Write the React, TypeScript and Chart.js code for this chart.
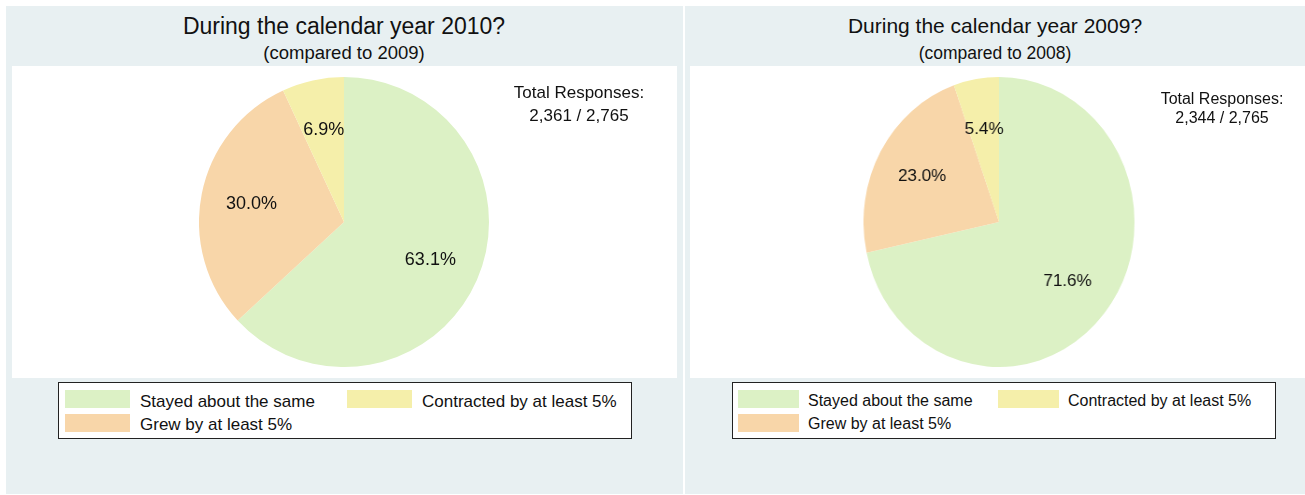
import React, { useEffect, useRef } from "react";
import { Chart, registerables } from "chart.js";

Chart.register(...registerables);

const categories = ["Stayed about the same", "Grew by at least 5%", "Contracted by at least 5%"];
const sliceColors = ["#dcf1c5", "#f8d6a9", "#f5efaa"];
const values2010 = [63.1, 30.0, 6.9];
const values2009 = [71.6, 23.0, 5.4];
const titles = ["During the calendar year 2010?", "During the calendar year 2009?"];
const subtitles = ["(compared to 2009)", "(compared to 2008)"];
const totals = ["2,361 / 2,765", "2,344 / 2,765"];
const legendOrder = [0, 2, 1];

const FONT = "'Liberation Sans', Arial, Helvetica, sans-serif";

function PieCanvas(props: { values: number[]; sx: number; fontSize: number }) {
  const ref = useRef<HTMLCanvasElement | null>(null);
  useEffect(() => {
    const sx = props.sx;
    const fs = props.fontSize;
    const labelPlugin = {
      id: "pctLabels",
      afterDatasetsDraw(chart: any) {
        const ctx = chart.ctx;
        const meta = chart.getDatasetMeta(0);
        const data = chart.data.datasets[0].data as number[];
        ctx.save();
        ctx.fillStyle = "#111";
        ctx.font = `${fs}px ${FONT}`;
        ctx.textAlign = "center";
        ctx.textBaseline = "middle";
        meta.data.forEach((arc: any, i: number) => {
          const p = arc.getProps(["x", "y", "startAngle", "endAngle", "outerRadius"], true);
          const mid = (p.startAngle + p.endAngle) / 2;
          const r = p.outerRadius * 0.65;
          const x = p.x + Math.cos(mid) * r;
          const y = p.y + Math.sin(mid) * r;
          ctx.save();
          ctx.translate(x, y);
          ctx.scale(1 / sx, 1);
          ctx.fillText(data[i].toFixed(1) + "%", 0, 0);
          ctx.restore();
        });
        ctx.restore();
      },
    };
    const chart = new Chart(ref.current as HTMLCanvasElement, {
      type: "pie",
      data: {
        labels: categories,
        datasets: [
          {
            data: props.values,
            backgroundColor: sliceColors,
            borderWidth: 0,
            hoverOffset: 0,
          },
        ],
      },
      options: {
        animation: false,
        responsive: false,
        devicePixelRatio: 1,
        events: [],
        layout: { padding: 0 },
        plugins: { legend: { display: false }, tooltip: { enabled: false } },
      },
      plugins: [labelPlugin],
    });
    return () => chart.destroy();
  }, []);
  return <canvas ref={ref} width={290} height={290} style={{ width: 290, height: 290, display: "block" }} />;
}

function Panel(props: {
  idx: number;
  left: number;
  width: number;
  plotLeft: number;
  plotWidth: number;
  pieCx: number;
  sx: number;
  values: number[];
  labelFont: number;
  titleFont: number;
  subFont: number;
  totalX: number;
  totalY: number;
  totalFont: number;
  totalLH: number;
  legendLeft: number;
  legendWidth: number;
  legendFont: number;
  swatchLeft: number;
  swatchWidth: number;
  textLeft: number;
  col2Offset: number;
  titleCx: number;
}) {
  const p = props;
  const abs = (o: any) => ({ position: "absolute" as const, ...o });
  return (
    <>
      <div style={abs({ left: p.left, top: 6, width: p.width, height: 488, background: "#e8f0f2" })} />
      <div style={abs({ left: p.plotLeft, top: 66, width: p.plotWidth, height: 312, background: "#ffffff" })} />
      <div
        style={abs({
          left: p.titleCx - 300,
          width: 600,
          top: 12,
          textAlign: "center",
          fontSize: p.titleFont,
          lineHeight: "28px",
          color: "#111",
        })}
      >
        {titles[p.idx]}
      </div>
      <div
        style={abs({
          left: p.titleCx - 300,
          width: 600,
          top: 42,
          textAlign: "center",
          fontSize: p.subFont,
          lineHeight: "22px",
          color: "#111",
        })}
      >
        {subtitles[p.idx]}
      </div>
      <div
        style={abs({
          left: p.pieCx - 145,
          top: 77,
          width: 290,
          height: 290,
          transform: `scaleX(${p.sx})`,
          transformOrigin: "50% 50%",
        })}
      >
        <PieCanvas values={p.values} sx={p.sx} fontSize={p.labelFont} />
      </div>
      <div
        style={abs({
          left: p.totalX - 100,
          width: 200,
          top: p.totalY,
          textAlign: "center",
          fontSize: p.totalFont,
          lineHeight: `${p.totalLH}px`,
          color: "#111",
        })}
      >
        <div>Total Responses:</div>
        <div>{totals[p.idx]}</div>
      </div>
      <div
        style={abs({
          left: p.legendLeft,
          top: 382,
          width: p.legendWidth,
          height: 57,
          border: "1px solid #222",
          background: "#fff",
          boxSizing: "border-box",
        })}
      >
        {legendOrder.map((ci, k) => {
          const row = k === 2 ? 1 : 0;
          const col = k === 1 ? 1 : 0;
          return (
            <div key={ci}>
              <div
                style={abs({
                  left: p.swatchLeft + col * p.col2Offset,
                  top: 7 + row * 24,
                  width: p.swatchWidth,
                  height: 18,
                  background: sliceColors[ci],
                })}
              />
              <div
                style={abs({
                  left: p.textLeft + col * p.col2Offset,
                  top: 9.7 + row * 23.3,
                  fontSize: p.legendFont,
                  lineHeight: `${p.legendFont}px`,
                  whiteSpace: "nowrap",
                  color: "#111",
                })}
              >
                {categories[ci]}
              </div>
            </div>
          );
        })}
      </div>
    </>
  );
}

export default function App() {
  return (
    <div
      style={{
        position: "absolute",
        left: 0,
        top: 0,
        width: 1305,
        height: 495,
        background: "#ffffff",
        fontFamily: FONT,
        overflow: "hidden",
      }}
    >
      <Panel
        idx={0}
        left={6}
        width={677}
        plotLeft={12}
        plotWidth={665}
        pieCx={344}
        sx={1}
        values={values2010}
        labelFont={18}
        titleFont={23}
        subFont={18.5}
        totalX={579}
        totalY={81}
        totalFont={17}
        totalLH={23}
        legendLeft={58}
        legendWidth={574}
        legendFont={17}
        swatchLeft={6}
        swatchWidth={65}
        textLeft={81}
        col2Offset={282}
        titleCx={344}
      />
      <Panel
        idx={1}
        left={685}
        width={620}
        plotLeft={690}
        plotWidth={615}
        pieCx={998.5}
        sx={0.9345}
        values={values2009}
        labelFont={17}
        titleFont={21}
        subFont={17.5}
        totalX={1222}
        totalY={89}
        totalFont={16}
        totalLH={19}
        legendLeft={732}
        legendWidth={544}
        legendFont={16}
        swatchLeft={5}
        swatchWidth={61}
        textLeft={75}
        col2Offset={260}
        titleCx={995}
      />
    </div>
  );
}
